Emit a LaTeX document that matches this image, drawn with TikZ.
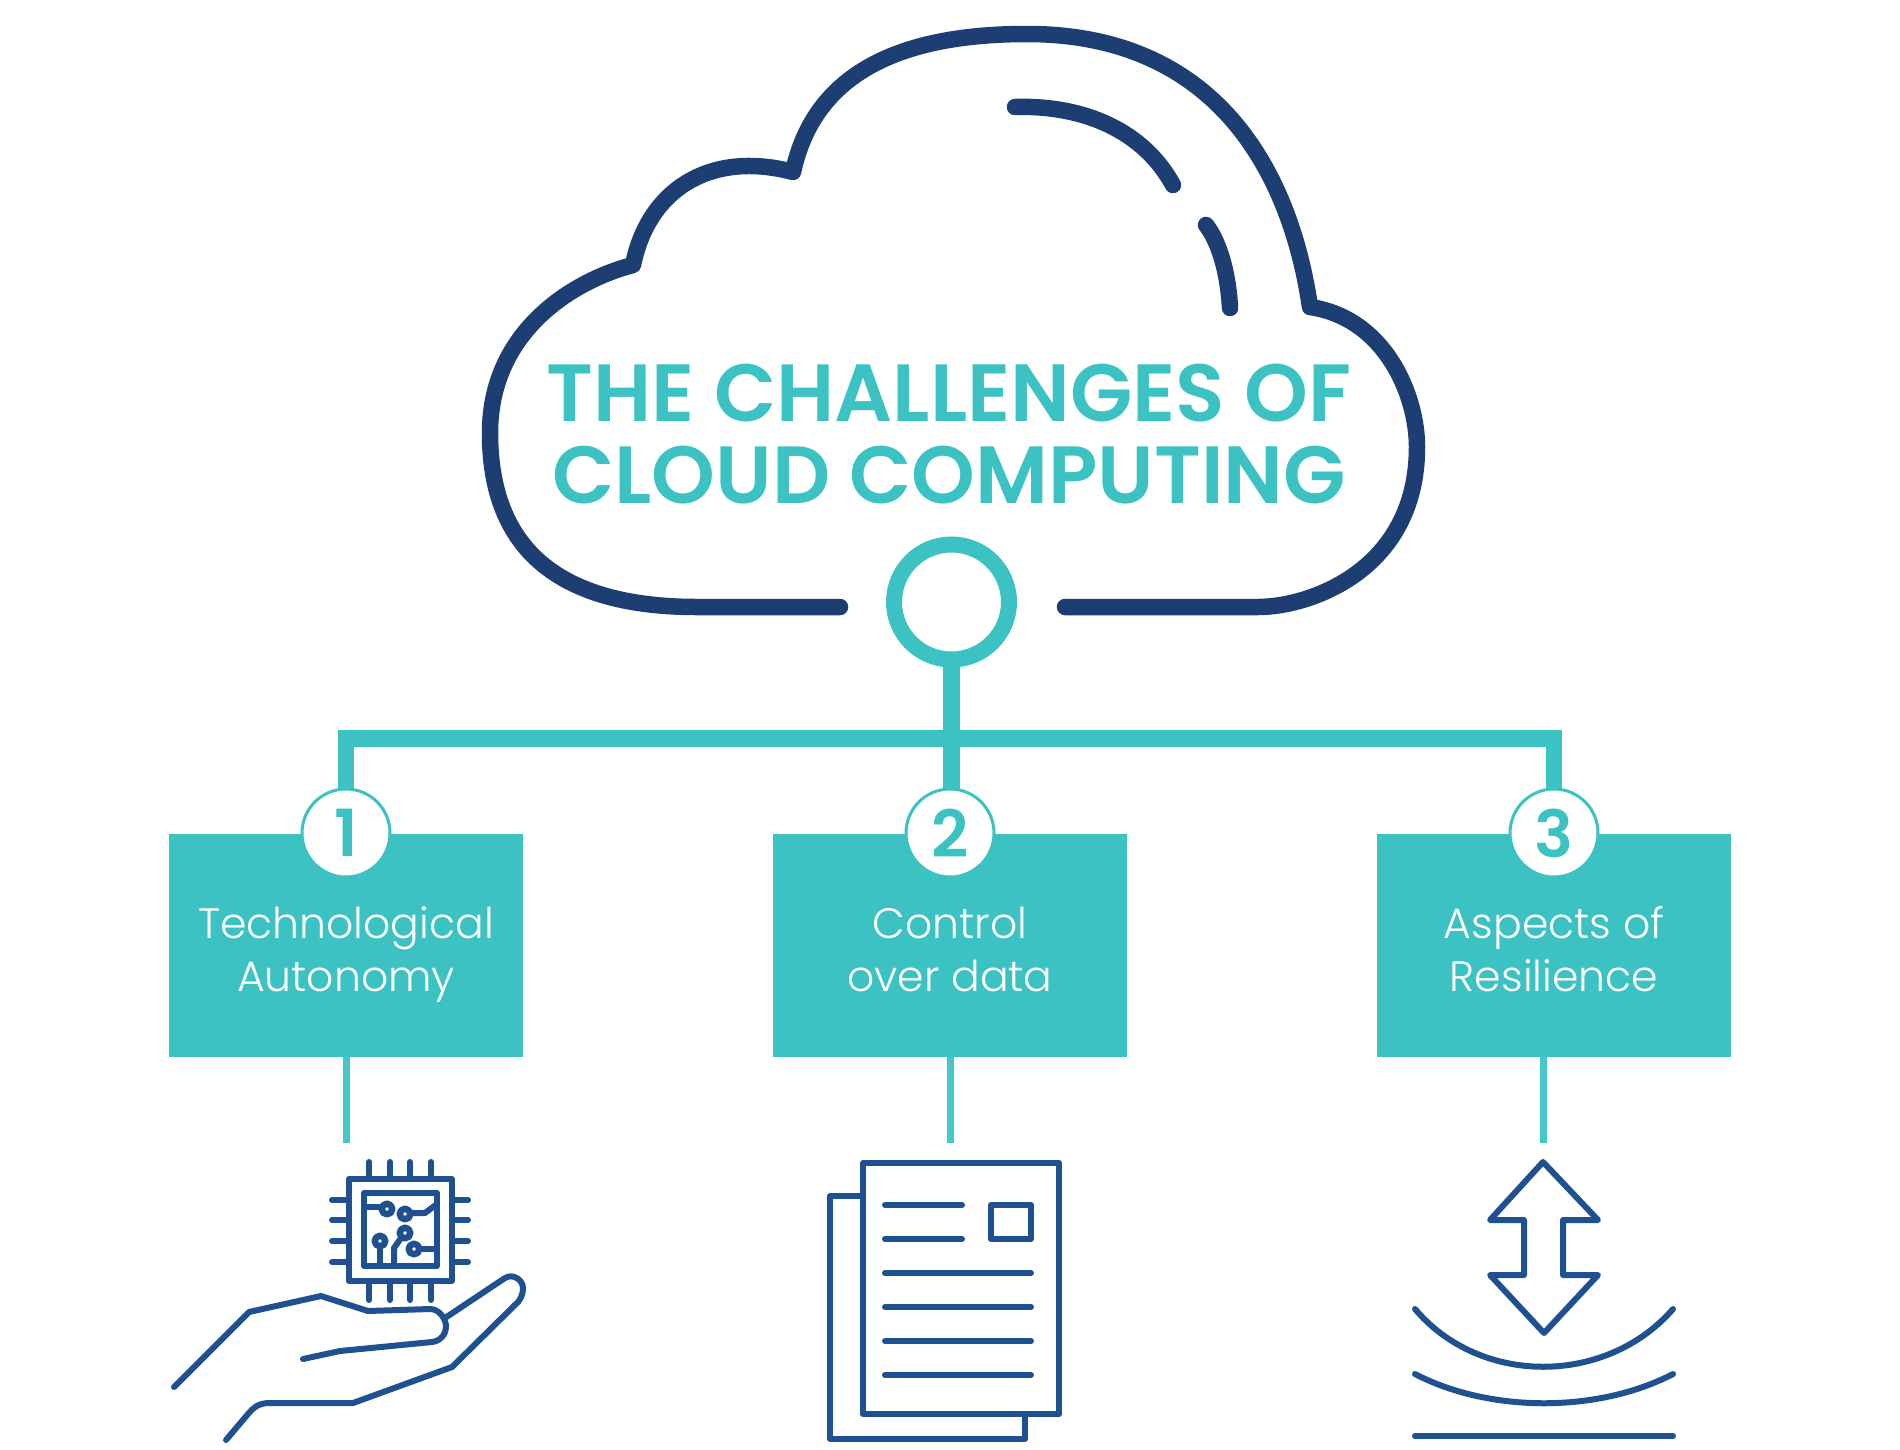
\documentclass[tikz,border=0pt]{standalone}
\usepackage{fontspec}
\setmainfont{Poppins}
\newfontfamily\lightfont{Poppins Light}
\newfontfamily\headfont{Poppins SemiBold}
\usetikzlibrary{arrows.meta}
\definecolor{cloudline}{HTML}{1C3E72}
\definecolor{tealfill}{HTML}{3CC2C3}
\definecolor{tealstub}{HTML}{45C6C8}
\definecolor{iconline}{HTML}{1F5090}
\tikzset{
  cloud-line/.style={draw=cloudline, line width=3.3mm, line cap=round, line join=round},
  title/.style={text=tealfill, font=\headfont\fontsize{46.2}{46.4}\selectfont, align=center, inner sep=0pt},
  hub/.style={circle, draw=tealfill, fill=white, line width=3.2mm, minimum size=23mm, inner sep=0pt, outer sep=0pt},
  bus/.style={draw=tealfill, line width=3.3mm, line join=miter},
  topic/.style={rectangle, fill=tealfill, minimum width=70.8mm, minimum height=44.6mm, inner sep=0pt, outer sep=0pt},
  topic-text/.style={text=white, font=\lightfont\fontsize{24.2}{29.8}\selectfont, align=center, inner sep=0pt, anchor=base},
  badge/.style={circle, draw=tealfill, fill=white, line width=0.6mm, minimum size=17.6mm, inner sep=0pt, outer sep=0pt, text=tealfill, font=\headfont\fontsize{37}{37}\selectfont},
  stub/.style={draw=tealstub, line width=1.4mm},
  icon/.style={draw=iconline, line width=1.2mm, line cap=round, line join=round}
}

\begin{document}
\begin{tikzpicture}[x=0.02cm, y=-0.02cm]
\useasboundingbox (0,0) rectangle (1900,1450);

\draw[cloud-line] (840,607) -- (697,607)
  .. controls (560,607) and (490,550) .. (490,433)
  .. controls (490,330) and (575,280) .. (633,265)
  .. controls (648,190) and (710,150) .. (793,172)
  .. controls (815,70) and (905,34) .. (1027,34)
  .. controls (1215,34) and (1290,170) .. (1310,307)
  .. controls (1385,318) and (1417,395) .. (1417,447)
  .. controls (1417,570) and (1310,607) .. (1258,607)
  -- (1065,607);
\draw[cloud-line] (1015,107) .. controls (1075,105) and (1140,125) .. (1173,185);
\draw[cloud-line] (1206,225) .. controls (1218,240) and (1228,270) .. (1230,308);

\node[title] (heading) at (949,434) {THE CHALLENGES OF\\CLOUD COMPUTING};
\node[hub] (centre) at (951.5,602) {};

\node[topic] (tech) at (346,945.5) {};
\node[topic] (control) at (950,945.5) {};
\node[topic] (resilience) at (1554,945.5) {};

\node[badge] (one) at (346,833) {1};
\node[badge] (two) at (950,833) {2};
\node[badge] (three) at (1554,833) {3};

\node[topic-text] (techtext) at (346,991) {Technological\\Autonomy};
\node[topic-text] (controltext) at (950,991) {Control\\over data};
\node[topic-text] (resiltext) at (1554,991) {Aspects of\\Resilience};

\coordinate (barmid) at (951.5,738.5);
\coordinate (techend) at (346,1143);
\coordinate (controlend) at (950,1143);
\coordinate (resilend) at (1543.5,1143);

\draw[bus] (one.north) -- (one |- barmid) -- (three |- barmid) -- (three.north);
\draw[bus] (centre.south) -- (centre.south |- two.north);
\draw[stub] (tech.south) -- (techend);
\draw[stub] (control.south) -- (controlend);
\draw[stub] (resilience.south -| resilend) -- (resilend);

\draw[icon] (349,1179) rectangle (452,1281);
\draw[icon] (364,1193) rectangle (437,1266);
\foreach \x in {369,390,410,431} {
  \draw[icon] (\x,1162) -- (\x,1179);
  \draw[icon] (\x,1281) -- (\x,1300);
}
\foreach \y in {1200,1220,1241,1262} {
  \draw[icon] (332,\y) -- (349,\y);
  \draw[icon] (452,\y) -- (468,\y);
}
\foreach \cx/\cy in {387/1209,405/1214,405/1233,380/1241,414/1249} {
  \draw[icon, line width=1.3mm] (\cx,\cy) circle (5.3);
}
\draw[icon] (364,1207) -- (380,1207);
\draw[icon] (412,1213) -- (425,1213) -- (437,1204);
\draw[icon] (380,1248) -- (380,1266);
\draw[icon] (394,1266) -- (394,1248) -- (401,1238);
\draw[icon] (421,1249) -- (437,1249);

\draw[icon] (174,1387) -- (249,1312) -- (321,1296) -- (368,1311) -- (430,1309)
  .. controls (440,1309) and (446,1320) .. (446,1326)
  .. controls (446,1335) and (440,1341) .. (432,1342)
  -- (340,1351) -- (303,1359);
\draw[icon] (445,1318) -- (505,1278)
  .. controls (513,1273) and (523,1280) .. (523,1288)
  .. controls (523,1294) and (521,1298) .. (518,1302)
  -- (452,1367) -- (353,1403) -- (270,1403)
  .. controls (258,1403) and (253,1408) .. (248,1414) -- (226,1440);

\draw[icon] (863,1196) -- (830,1196) -- (830,1439) -- (1025,1439) -- (1025,1414);
\draw[icon] (863,1163) rectangle (1059,1414);
\draw[icon] (991,1205) rectangle (1031,1239);
\draw[icon] (885,1205) -- (962,1205);
\draw[icon] (885,1239) -- (962,1239);
\foreach \y in {1273,1307,1341,1375} {
  \draw[icon] (885,\y) -- (1031,\y);
}

\draw[icon] (1543,1162) -- (1598,1220) -- (1563,1220) -- (1563,1275) -- (1598,1275)
  -- (1544,1333) -- (1490,1275) -- (1524,1275) -- (1524,1220) -- (1490,1220) -- cycle;
\draw[icon] (1415,1309) .. controls (1480,1386) and (1606,1386) .. (1673,1309);
\draw[icon] (1415,1374) .. controls (1490,1413) and (1598,1413) .. (1673,1374);
\draw[icon] (1415,1436) -- (1673,1436);

\end{tikzpicture}
\end{document}
